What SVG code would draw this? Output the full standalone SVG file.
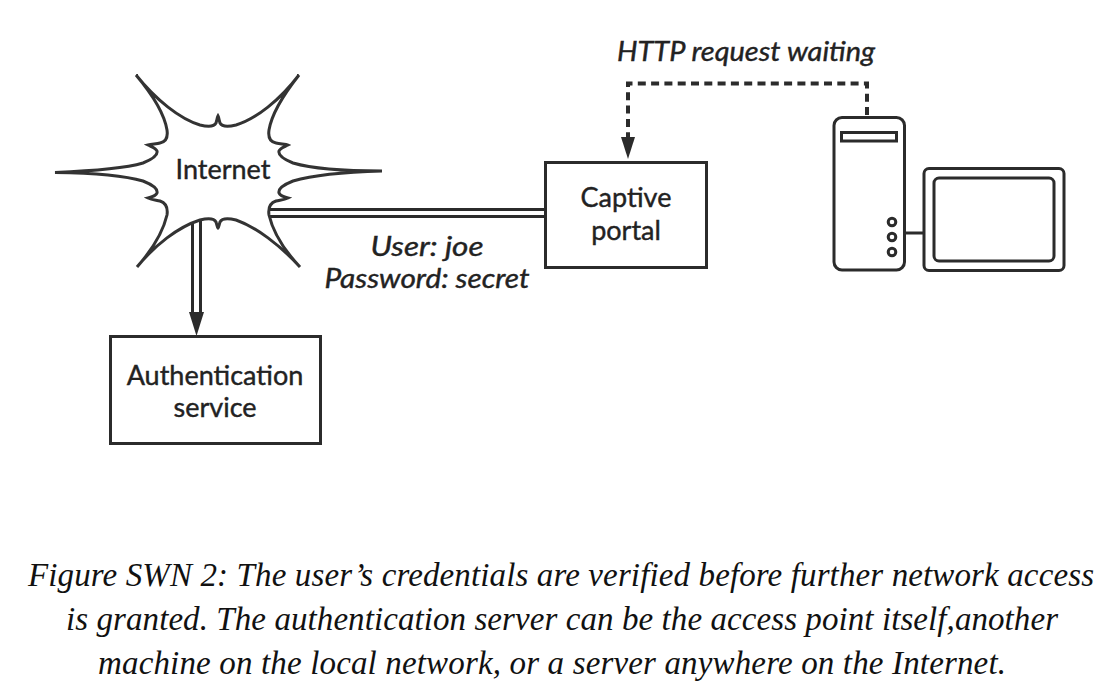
<svg xmlns="http://www.w3.org/2000/svg" width="1104" height="696" viewBox="0 0 1104 696">
<style>
.bg{fill:#fff}
.box{fill:#fff;stroke:#2b2b2b;stroke-width:3}
.ln{fill:none;stroke:#2b2b2b;stroke-width:3}
.thin{fill:#fff;stroke:#333;stroke-width:3}
.head{fill:#2b2b2b}
.lab{font-family:"Lato","Noto Sans",sans-serif;font-size:27px;fill:#222;text-anchor:middle;stroke:#222;stroke-width:0.4}
.it{font-style:italic}
.cap{font-family:"Liberation Serif",serif;font-style:italic;font-size:33px;fill:#111}
</style>
<rect class="bg" width="1104" height="696"/>
<g id="connectors">
<path class="ln" d="M270 209.500H545M270 216.500H545"/>
<path class="ln" d="M192.500 220V314M200.500 220V314"/>
<polygon class="head" points="189,312 204,312 196.500,336"/>
<path d="M867 115V83.500H628V138" fill="none" stroke="#2b2b2b" stroke-width="4" stroke-dasharray="8 5.300"/>
<polygon class="head" points="621,137 635,137 628,159"/>
<path class="ln" d="M905 233H924"/>
</g>
<g id="internet">
<path class="thin" d="M136 75C156 100 180 119 200 125C208 127 214 127 216 123C217 120 217 118 218 116C219 118 219 120 220 123C222 127 228 127 236 125C256 119 280 100 299 75C284 94 272 112 269 130C268 137 270 142 276 143C281 144 286 144 288 145C284 147 280 148 279 151C278 155 283 159 293 163C310 168 345 171 382 171C345 172 310 176 293 181C283 185 278 189 279 193C280 196 284 197 288 198C284 200 280 200 276 201C270 203 268 208 269 215C273 232 284 250 300 267C280 245 256 227 236 220C228 218 222 218 220 222C219 225 219 227 218 228C217 227 217 225 216 222C214 218 208 218 200 220C178 227 155 245 137 267C152 250 163 232 167 215C168 208 166 203 160 201C156 200 152 200 148 198C152 197 156 196 157 193C158 189 153 185 143 181C126 176 92 173 55 172.500C92 171 126 168 143 163C153 159 158 155 157 151C156 148 152 147 148 145C152 144 157 144 160 143C166 142 168 137 167 130C164 112 152 94 136 75Z"/>
<text class="lab" x="223" y="179">Internet</text>
</g>
<g id="captive-portal">
<rect class="box" x="545.500" y="162.500" width="161" height="105"/>
<text class="lab" x="626" y="207">Captive</text>
<text class="lab" x="626" y="240">portal</text>
</g>
<g id="authentication-service">
<rect class="box" x="110.500" y="336.500" width="210" height="107"/>
<text class="lab" x="215" y="385">Authentication</text>
<text class="lab" x="215" y="417">service</text>
</g>
<g id="computer-tower">
<rect class="box" x="834" y="117.500" width="70.500" height="152.500" rx="8"/>
<rect class="box" x="841.500" y="132.500" width="55" height="8.500"/>
<circle class="box" cx="892" cy="222" r="3.800"/>
<circle class="box" cx="892" cy="237" r="3.800"/>
<circle class="box" cx="892" cy="252" r="3.800"/>
</g>
<g id="monitor">
<rect class="box" x="924" y="168.500" width="140" height="102" rx="5"/>
<rect class="box" x="934" y="178" width="120" height="83" rx="5"/>
</g>
<g id="labels">
<text class="lab it" x="746" y="61" textLength="258" lengthAdjust="spacingAndGlyphs">HTTP request waiting</text>
<text class="lab it" x="427" y="256" textLength="113" lengthAdjust="spacingAndGlyphs">User: joe</text>
<text class="lab it" x="427" y="288" textLength="205" lengthAdjust="spacingAndGlyphs">Password: secret</text>
</g>
<g id="caption">
<text class="cap" x="28" y="586" textLength="1066" lengthAdjust="spacing">Figure SWN 2: The user’s credentials are verified before further network access</text>
<text class="cap" x="66" y="630" textLength="992" lengthAdjust="spacing">is granted. The authentication server can be the access point itself,another</text>
<text class="cap" x="98" y="674" textLength="908" lengthAdjust="spacing">machine on the local network, or a server anywhere on the Internet.</text>
</g>
</svg>
